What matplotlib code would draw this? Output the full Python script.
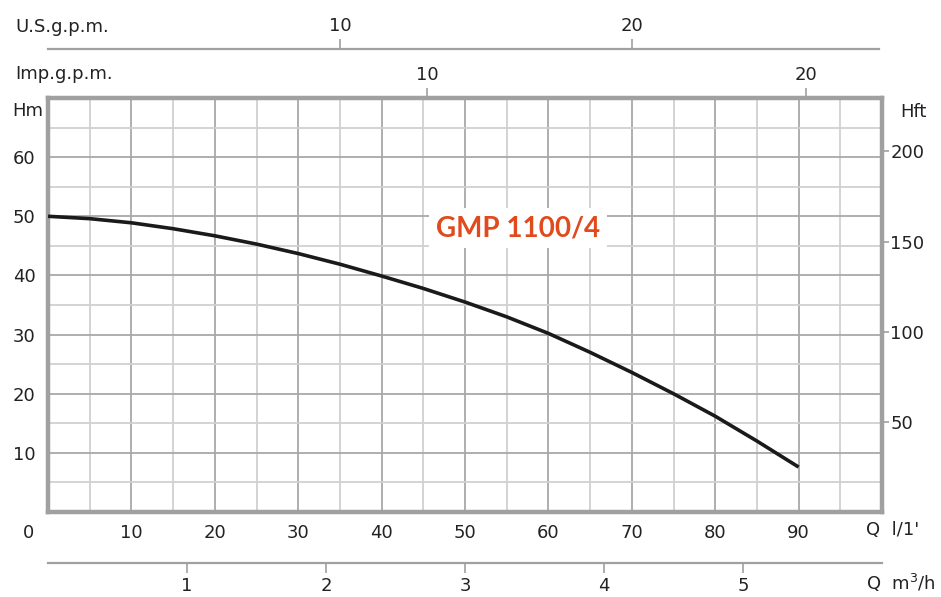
import numpy as np
import matplotlib.pyplot as plt

###--- Data ---###
q_lmin = [0, 5, 10, 15, 20, 25, 30, 35, 40, 45, 50, 55, 60, 65, 70, 75, 80, 85, 90]
h_m = [50.0, 49.6, 48.9, 47.9, 46.7, 45.3, 43.7, 41.9, 39.9, 37.8, 35.5, 33.0,
       30.2, 27.0, 23.6, 20.0, 16.2, 12.0, 7.6]
pump_name = "GMP 1100/4"

x_ticks = [10, 20, 30, 40, 50, 60, 70, 80, 90]
y_ticks = [10, 20, 30, 40, 50, 60]
hft_ticks = [50, 100, 150, 200]
m3h_ticks = [1, 2, 3, 4, 5]
imp_ticks = [10, 20]
us_ticks = [10, 20]

M_TO_FT = 3.2808
LMIN_PER_M3H = 1000 / 60
LMIN_PER_IMP = 4.546
LMIN_PER_US = 3.5      # as drawn on the sheet

grid_dark = "#a8a8a8"
grid_light = "#d0d0d0"
frame_col = "#a0a0a0"
txt = "#222222"
font = ["DejaVu Sans"]
fs = 13

W, H = 941, 597
fig = plt.figure(figsize=(W / 100, H / 100), dpi=100)
px = lambda x0, y0, x1, y1: [x0 / W, 1 - y1 / H, (x1 - x0) / W, (y1 - y0) / H]

###--- Main plot ---###
ax = fig.add_axes(px(48, 98, 882, 512))
ax.set_xlim(0, 100)
ax.set_ylim(0, 70)
for v in np.arange(5, 100, 5):
    ax.axvline(v, color=grid_dark if v % 10 == 0 else grid_light, lw=1.3, zorder=1)
for v in np.arange(5, 70, 5):
    ax.axhline(v, color=grid_dark if v % 10 == 0 else grid_light, lw=1.3, zorder=1)
for s in ax.spines.values():
    s.set_color(frame_col)
    s.set_linewidth(3.2)
ax.plot(q_lmin, h_m, color="#1a1a1a", lw=2.6, zorder=3, solid_capstyle="butt")

ax.set_xticks(x_ticks)
ax.set_yticks(y_ticks)
ax.tick_params(length=0, labelsize=fs, colors=txt)
ax.tick_params(axis="x", pad=9)
ax.tick_params(axis="y", pad=9)
for lab in ax.get_xticklabels() + ax.get_yticklabels():
    lab.set_family(font)

ax.text(56.4, 48.0, pump_name, color="#e04a1c", fontsize=20, fontweight="bold",
        family=["Lato", "DejaVu Sans"], ha="center", va="center", zorder=4,
        bbox=dict(facecolor="white", edgecolor="none", pad=5))

fig.text(28 / W, 1 - 533 / H, "0", fontsize=fs, family=font, color=txt, ha="center", va="center")
fig.text(28 / W, 1 - 111 / H, "Hm", fontsize=fs, family=font, color=txt, ha="center", va="center")
fig.text(866 / W, 1 - 530 / H, "Q  l/1'", fontsize=fs, family=font, color=txt, ha="left", va="center")
fig.text(866 / W, 1 - 583 / H, "Q  m$^3$/h", fontsize=fs, family=font, color=txt, ha="left", va="center")
fig.text(900 / W, 1 - 112 / H, "Hft", fontsize=fs, family=font, color=txt, ha="left", va="center")
fig.text(15 / W, 1 - 27 / H, "U.S.g.p.m.", fontsize=fs, family=font, color=txt, ha="left", va="center")
fig.text(15 / W, 1 - 74 / H, "Imp.g.p.m.", fontsize=fs, family=font, color=txt, ha="left", va="center")

###--- Right axis in feet ---###
axr = ax.twinx()
axr.set_ylim(0, 70 * M_TO_FT)
axr.set_yticks(hft_ticks)
axr.tick_params(axis="y", length=5, width=1.2, color=frame_col, labelsize=fs, labelcolor=txt, pad=1)
for lab in axr.get_yticklabels():
    lab.set_family(font)
for s in axr.spines.values():
    s.set_visible(False)

###--- Imp gpm scale on top of frame ---###
imp = ax.secondary_xaxis("top", functions=(lambda q: q / LMIN_PER_IMP, lambda g: g * LMIN_PER_IMP))
imp.set_xticks(imp_ticks)
imp.spines["top"].set_visible(False)
imp.tick_params(length=7, width=1.2, color=frame_col, labelsize=fs, labelcolor=txt, pad=3)
for lab in imp.get_xticklabels():
    lab.set_family(font)

###--- US gpm scale ---###
ax_us = fig.add_axes(px(48, 49, 882, 50))
ax_us.set_xlim(0, 100)
ax_us.set_ylim(0, 1)
ax_us.patch.set_visible(False)
ax_us.set_yticks([])
for k in ["left", "right", "bottom"]:
    ax_us.spines[k].set_visible(False)
ax_us.spines["top"].set_color(frame_col)
ax_us.spines["top"].set_linewidth(1.6)
ax_us.spines["top"].set_bounds(0, 99.7)
ax_us.set_xticks([])
us = ax_us.secondary_xaxis("top", functions=(lambda q: q / LMIN_PER_US, lambda g: g * LMIN_PER_US))
us.set_xticks(us_ticks)
us.spines["top"].set_visible(False)
us.tick_params(length=7, width=1.2, color=frame_col, labelsize=fs, labelcolor=txt, pad=3)
for lab in us.get_xticklabels():
    lab.set_family(font)

###--- m3/h scale ---###
ax_m3 = fig.add_axes(px(48, 562, 882, 563))
ax_m3.set_xlim(0, 100)
ax_m3.set_ylim(0, 1)
ax_m3.patch.set_visible(False)
ax_m3.set_yticks([])
for k in ["left", "right", "top"]:
    ax_m3.spines[k].set_visible(False)
ax_m3.spines["bottom"].set_color(frame_col)
ax_m3.spines["bottom"].set_linewidth(1.6)
ax_m3.set_xticks([])
m3 = ax_m3.secondary_xaxis("bottom", functions=(lambda q: q / LMIN_PER_M3H, lambda c: c * LMIN_PER_M3H))
m3.set_xticks(m3h_ticks)
m3.spines["bottom"].set_visible(False)
m3.tick_params(length=7, width=1.2, color=frame_col, labelsize=fs, labelcolor=txt, pad=3)
for lab in m3.get_xticklabels():
    lab.set_family(font)

fig.savefig("out.png", dpi=100)
